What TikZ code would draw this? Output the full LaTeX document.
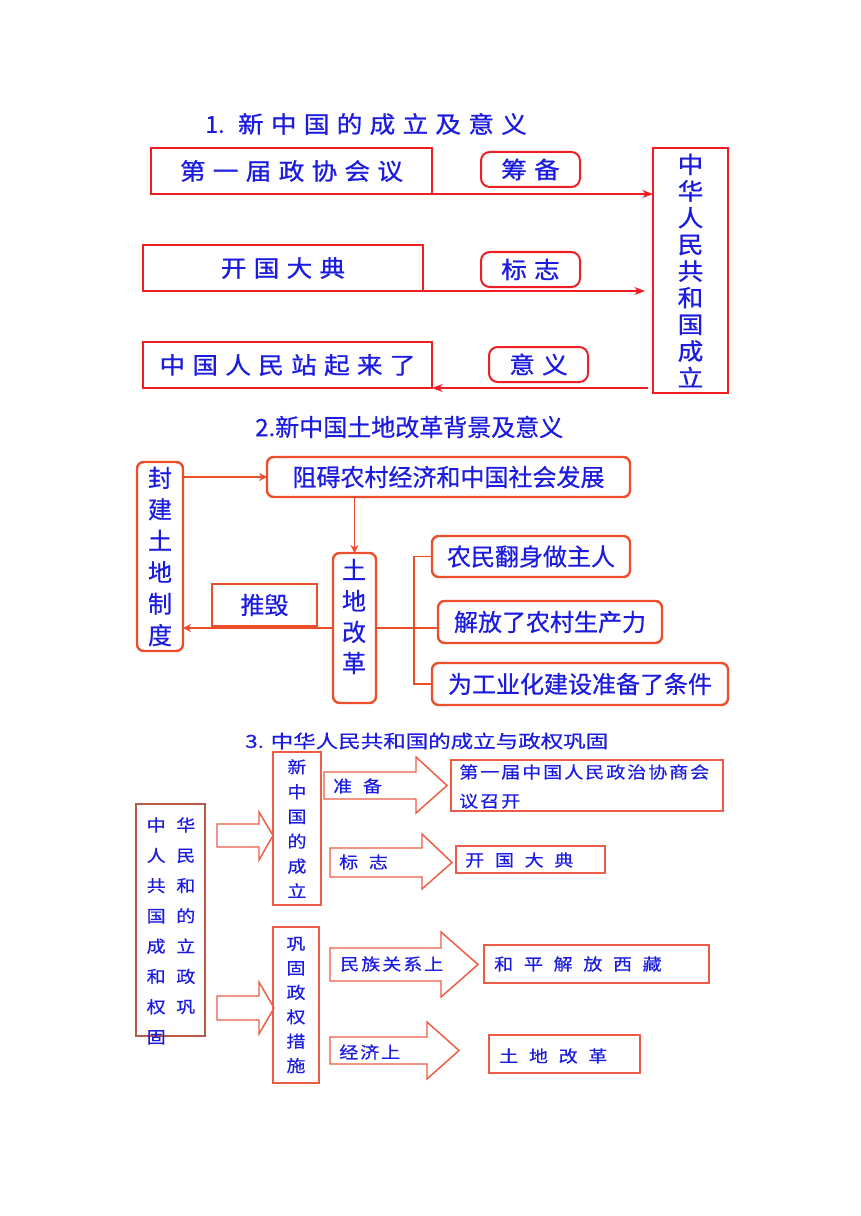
\documentclass[tikz,border=0pt]{standalone}
\usepackage{fontspec}
\setmainfont{Noto Sans CJK SC}
\newfontfamily\fA[FakeStretch=1.1,LetterSpace=31,FakeBold=0.8]{Noto Sans CJK SC}
\newfontfamily\fB[FakeBold=0.6]{Noto Sans CJK SC}
\newfontfamily\fC[FakeStretch=1.15,LetterSpace=12,FakeBold=0.4]{Noto Sans CJK SC}
\newfontfamily\fT[FakeStretch=1.25,FakeBold=0.4]{Noto Sans CJK SC}
\usetikzlibrary{arrows.meta}
\definecolor{tb}{RGB}{28,28,225}
\definecolor{ra}{RGB}{238,30,36}
\definecolor{rb}{RGB}{236,78,44}
\definecolor{rc}{RGB}{236,92,70}
\definecolor{rl}{RGB}{185,88,70}
\newcommand\Gp{\hspace{8pt}}
\newcommand\Bx[7]{\node[inner sep=0pt,outer sep=0pt,#6,minimum width={(#4-#2)*0.75pt},minimum height={(#5-#3)*0.75pt}] (#1) at ({(#2+#4)/2},{(#3+#5)/2}) {#7};}
\tikzset{
 s1box/.style={draw=ra, line width=1.5pt},
 s1pill/.style={draw=ra, line width=1.5pt, rounded corners=6.5pt},
 s1txt/.style={text=tb, align=center, font=\fA\fontsize{17.5}{20}\selectfont, inner sep=0pt},
 s1arr/.style={draw=ra, line width=1pt, -{Stealth[length=8pt,width=6pt,inset=2.5pt]}},
 s2box/.style={draw=rb, line width=1.8pt, rounded corners=5pt},
 s2txt/.style={text=tb, align=center, font=\fB\fontsize{18}{23.6}\selectfont, inner sep=0pt},
 s2arr/.style={draw=rb, line width=1pt, -{Stealth[length=6pt,width=6pt,inset=2pt]}},
 s2line/.style={draw=rb, line width=1pt},
 s3box/.style={draw=rc, line width=1.1pt},
 s3txt/.style={text=tb, align=center, font=\fC\fontsize{12.4}{18.6}\selectfont, inner sep=0pt},
 s3title/.style={text=tb, font=\fT\fontsize{13.5}{16}\selectfont, inner sep=0pt},
 blockarr/.style={draw=rc, line width=1.1pt, line join=miter},
}
\begin{document}
\begin{tikzpicture}[x=0.75pt,y=-0.75pt]
\fill[white] (0,0) rectangle (860,1216);
\useasboundingbox (0,0) rectangle (860,1216);

% ---------- Section 1
\node[s1txt, anchor=west] (t1) at (205,124) {{\fB 1.}\hspace{10pt}新中国的成立及意义};
\Bx{A}{151}{148}{432}{194}{s1box,s1txt}{第一届政协会议}
\Bx{P1}{481}{152}{580}{187}{s1pill,s1txt}{筹备}
\Bx{R}{653}{148}{728}{393}{s1box,s1txt}{中\\华\\人\\民\\共\\和\\国\\成\\立}
\Bx{B}{143}{245}{423}{291}{s1box,s1txt}{开国大典}
\Bx{P2}{481}{252}{580}{287}{s1pill,s1txt}{标志}
\Bx{C}{143}{342}{432}{388}{s1box,s1txt}{中国人民站起来了}
\Bx{P3}{489}{347}{588}{382}{s1pill,s1txt}{意义}
\draw[s1arr] (A.south east) -- (A.south east -| R.west);
\draw[s1arr, shorten >=6pt] (B.south east) -- (B.south east -| R.west);
\draw[s1arr, shorten <=4pt] (C.south east -| R.west) -- (C.south east);

% ---------- Section 2
\node[s2txt, anchor=west] (t2) at (255,427) {2.新中国土地改革背景及意义};
\Bx{F}{137}{462}{183}{651}{s2box,s2txt}{封\\建\\土\\地\\制\\度}
\Bx{Z}{267}{457}{630}{497}{s2box,s2txt}{阻碍农村经济和中国社会发展}
\Bx{T}{333}{553}{376}{703}{s2box}{}
\node[s2txt, font=\fB\fontsize{18}{23.25}\selectfont] (Tt) at (354,616.5) {土\\地\\改\\革};
\Bx{D}{212}{584}{317}{626}{draw=rb,line width=2.2pt,s2txt}{推毁}
\Bx{N1}{432}{536}{630}{577}{s2box,s2txt}{农民翻身做主人}
\Bx{N2}{438}{601}{662}{643}{s2box,s2txt}{解放了农村生产力}
\Bx{N3}{432}{663}{728}{705}{s2box,s2txt}{为工业化建设准备了条件}
\draw[s2arr] (Z.west -| F.east) -- (Z.west);
\draw[s2arr] (T.north |- Z.south) -- (T.north);
\draw[s2arr] (T.west) -- (T.west -| F.east);
\draw[s2line] (T.east) -- (T.east -| N2.west);
\draw[s2line] (N1.west) -- ++(-18,0) |- (N3.west);

% ---------- Section 3
\node[s3title, anchor=west] (t3) at (245,741) {3. 中华人民共和国的成立与政权巩固};
\Bx{L}{136}{804}{205}{1036}{s3box,draw=rl}{}
\node[s3txt, align=left, font=\fC\fontsize{12.4}{22.7}\selectfont] (Lt) at (171,931)
  {中\Gp 华\\人\Gp 民\\共\Gp 和\\国\Gp 的\\成\Gp 立\\和\Gp 政\\权\Gp 巩\\固};
\Bx{X1}{273}{752}{321}{905}{s3box,s3txt}{新\\中\\国\\的\\成\\立}
\Bx{X2}{273}{927}{319}{1083}{s3box,s3txt,font=\fC\fontsize{12.4}{18.3}\selectfont}{巩\\固\\政\\权\\措\\施}
\Bx{Y1}{451}{760}{723}{811}{s3box}{}
\node[s3txt, align=left, anchor=west, font=\fC\fontsize{12.4}{21.75}\selectfont] (Y1t) at (459,786.5) {第一届中国人民政治协商会\\议召开};
\Bx{Y2}{456}{846}{605}{873}{s3box}{}
\node[s3txt, anchor=west] (Y2t) at (465,860) {开\Gp 国\Gp 大\Gp 典};
\Bx{Y3}{484}{945}{709}{983}{s3box}{}
\node[s3txt, anchor=west] (Y3t) at (494,964) {和\Gp 平\Gp 解\Gp 放\Gp 西\Gp 藏};
\Bx{Y4}{489}{1035}{640}{1073}{s3box}{}
\node[s3txt, anchor=west] (Y4t) at (499,1056) {土\Gp 地\Gp 改\Gp 革};

% block arrows
\draw[blockarr] (217,824) -- (259,824) -- (259,812) -- (273,835.5) -- (259,860) -- (259,847) -- (217,847) -- cycle;
\draw[blockarr] (217,996) -- (259,996) -- (259,982) -- (274,1008) -- (259,1034) -- (259,1020) -- (217,1020) -- cycle;
\draw[blockarr] (324,772) -- (416,772) -- (416,757) -- (447,785.5) -- (416,813) -- (416,799) -- (324,799) -- cycle;
\draw[blockarr] (330,848) -- (422,848) -- (422,834) -- (452,862.5) -- (422,889) -- (422,877) -- (330,877) -- cycle;
\draw[blockarr] (330,948) -- (441,948) -- (441,932) -- (478,964.5) -- (441,997) -- (441,981) -- (330,981) -- cycle;
\draw[blockarr] (330,1037) -- (427,1037) -- (427,1022) -- (459,1050.5) -- (427,1079) -- (427,1064) -- (330,1064) -- cycle;
\node[s3txt, anchor=west] (k1) at (333,786) {准\Gp 备};
\node[s3txt, anchor=west] (k2) at (339,862) {标\Gp 志};
\node[s3txt, anchor=west] (k3) at (340,964) {民族关系上};
\node[s3txt, anchor=west] (k4) at (339,1052) {经济上};
\end{tikzpicture}
\end{document}
